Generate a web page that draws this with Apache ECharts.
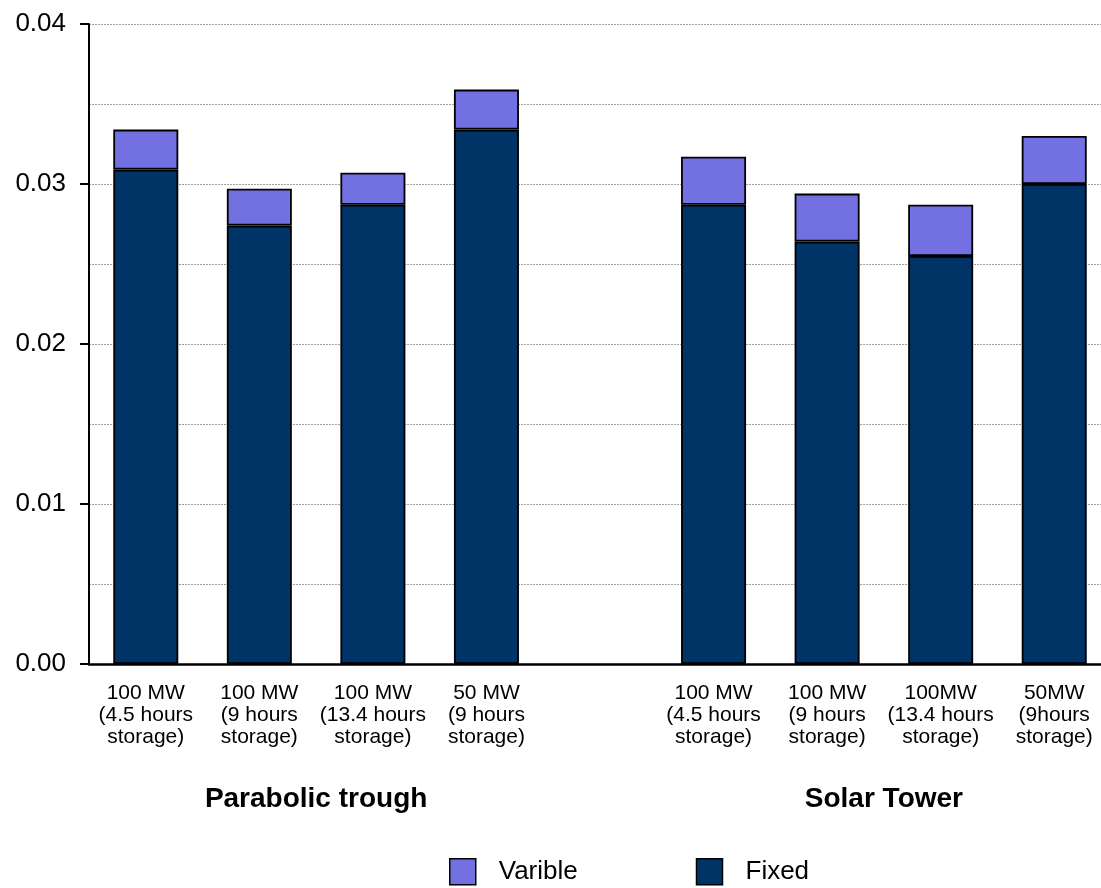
<!DOCTYPE html>
<html>
<head>
<meta charset="utf-8">
<script src="https://cdn.jsdelivr.net/npm/echarts@6/dist/echarts.min.js"></script>
<style>
html,body{margin:0;padding:0;background:#fff;overflow:hidden;width:1101px;height:888px;}
#chart{width:1114px;height:888px;}
</style>
</head>
<body>
<div id="chart"></div>
<script>
// Data
var categories = [
  '100 MW\n(4.5 hours\nstorage)',
  '100 MW\n(9 hours\nstorage)',
  '100 MW\n(13.4 hours\nstorage)',
  '50 MW\n(9 hours\nstorage)',
  '',
  '100 MW\n(4.5 hours\nstorage)',
  '100 MW\n(9 hours\nstorage)',
  '100MW\n(13.4 hours\nstorage)',
  '50MW\n(9hours\nstorage)'
];
var fixedValues    = [0.0309, 0.0274, 0.0287, 0.0334, null, 0.0287, 0.0264, 0.0255, 0.0300];
var variableValues = [0.0025, 0.0023, 0.0020, 0.0025, null, 0.0030, 0.0030, 0.0032, 0.0030];
var groupLabels = ['Parabolic trough', 'Solar Tower'];
var groupPositions = [2, 7];

var FONT = '"Liberation Sans", Arial, sans-serif';
var chart = echarts.init(document.getElementById('chart'), null, {renderer: 'canvas'});
var option = {
  animation: false,
  backgroundColor: '#ffffff',
  grid: {left: 89, right: 0, top: 24, bottom: 224, containLabel: false},
  legend: {
    data: ['Varible', 'Fixed'],
    left: 444,
    top: 853,
    padding: 5,
    itemWidth: 26,
    itemHeight: 26,
    itemGap: 118,
    icon: 'rect',
    itemStyle: {borderColor: '#000', borderWidth: 1.5},
    textStyle: {fontFamily: FONT, fontSize: 26, color: '#000', padding: [0, 0, 0, 18]}
  },
  xAxis: [{
    type: 'category',
    data: categories,
    axisLine: {show: true, lineStyle: {color: '#000', width: 2.5}},
    axisTick: {show: false},
    axisLabel: {
      interval: 0,
      fontFamily: FONT, fontSize: 21, lineHeight: 22, color: '#000',
      margin: 18
    },
    splitLine: {show: false}
  }, {
    type: 'value',
    min: 0, max: 9, interval: 1,
    position: 'bottom',
    axisLine: {show: false},
    axisTick: {show: false},
    splitLine: {show: false},
    axisLabel: {
      fontFamily: FONT, fontSize: 28, fontWeight: 'bold', color: '#000',
      lineHeight: 28, margin: 121, showMinLabel: true, showMaxLabel: true,
      formatter: function (v) {
        var i = groupPositions.indexOf(v);
        return i >= 0 ? groupLabels[i] : '';
      }
    }
  }],
  yAxis: {
    type: 'value',
    min: 0, max: 0.04, interval: 0.01,
    axisLine: {show: true, lineStyle: {color: '#000', width: 2}},
    axisTick: {show: true, length: 9, lineStyle: {color: '#000', width: 2}},
    axisLabel: {
      fontFamily: FONT, fontSize: 26, color: '#000', margin: 23,
      formatter: function (v) { return v.toFixed(2); }
    },
    splitLine: {show: true, lineStyle: {color: '#a0a0a0', type: [2, 1], width: 1}},
    minorTick: {show: false, splitNumber: 2},
    minorSplitLine: {show: true, lineStyle: {color: '#a0a0a0', type: [2, 1], width: 1}}
  },
  series: [{
    name: 'Fixed',
    type: 'bar',
    stack: 'total',
    data: fixedValues,
    barWidth: 65,
    itemStyle: {color: '#003366', borderColor: '#000', borderWidth: 1.8}
  }, {
    name: 'Varible',
    type: 'bar',
    stack: 'total',
    data: variableValues,
    barWidth: 65,
    itemStyle: {color: '#7370E2', borderColor: '#000', borderWidth: 1.8}
  }]
};
chart.setOption(option);
</script>
</body>
</html>
